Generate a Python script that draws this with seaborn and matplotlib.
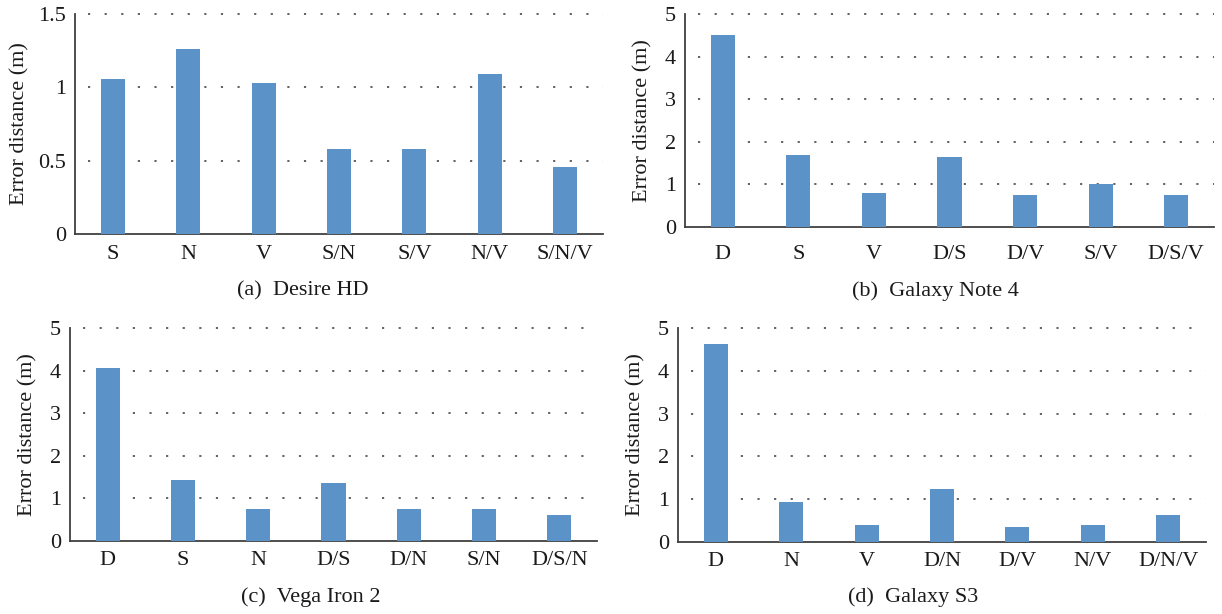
import matplotlib
matplotlib.use("Agg")
import matplotlib.pyplot as plt
import seaborn as sns
import pandas as pd

# ---- data ----
cats_a = ["S", "N", "V", "S/N", "S/V", "N/V", "S/N/V"]
vals_a = [1.06, 1.26, 1.03, 0.58, 0.58, 1.09, 0.455]

cats_b = ["D", "S", "V", "D/S", "D/V", "S/V", "D/S/V"]
vals_b = [4.51, 1.70, 0.80, 1.65, 0.76, 1.02, 0.76]

cats_c = ["D", "S", "N", "D/S", "D/N", "S/N", "D/S/N"]
vals_c = [4.07, 1.43, 0.75, 1.36, 0.75, 0.75, 0.61]

cats_d = ["D", "N", "V", "D/N", "D/V", "N/V", "D/N/V"]
vals_d = [4.63, 0.93, 0.39, 1.23, 0.34, 0.39, 0.625]

titles = ["(a)  Desire HD", "(b)  Galaxy Note 4", "(c)  Vega Iron 2", "(d)  Galaxy S3"]
ylabel = "Error distance (m)"

sns.set_style("white")
plt.rcParams["font.family"] = ["Liberation Serif", "DejaVu Serif"]

BAR = "#5b93c9"
SPINE = "#404040"
TXT = "#1a1a1a"
FS = 16
W, H = 1222, 614
fig = plt.figure(figsize=(W / 100, H / 100), dpi=100)

def px_axes(left, top, right, bottom):
    return fig.add_axes([left / W, 1 - bottom / H, (right - left) / W, (bottom - top) / H])

panels = [
    dict(cats=cats_a, vals=vals_a, box=(75, 14, 603, 234), ymax=1.5,
         yticks=[0, 0.5, 1, 1.5], ytl=["0", "0.5", "1", "1.5"], xpad=8, boundary=False,
         ylab=(20, 124), cap=(303, 291)),
    dict(cats=cats_b, vals=vals_b, box=(685, 14, 1214, 227), ymax=5,
         yticks=[0, 1, 2, 3, 4, 5], ytl=None, xpad=13, boundary=True,
         ylab=(643, 120.5), cap=(935, 291)),
    dict(cats=cats_c, vals=vals_c, box=(70, 328, 597, 541), ymax=5,
         yticks=[0, 1, 2, 3, 4, 5], ytl=None, xpad=7, boundary=False,
         ylab=(28, 434.5), cap=(311, 597)),
    dict(cats=cats_d, vals=vals_d, box=(678, 328, 1206, 542), ymax=5,
         yticks=[0, 1, 2, 3, 4, 5], ytl=None, xpad=7.5, boundary=False,
         ylab=(636, 435), cap=(913, 597)),
]

for p, title in zip(panels, titles):
    ax = px_axes(*p["box"])
    df = pd.DataFrame({"cat": p["cats"], "val": p["vals"]})
    sns.barplot(data=df, x="cat", y="val", color=BAR, width=0.32,
                saturation=1, linewidth=0, ax=ax, zorder=3)
    ax.set_xlim(-0.5, len(p["cats"]) - 0.5)
    ax.set_ylim(0, p["ymax"])
    ax.set_yticks(p["yticks"])
    if p["ytl"]:
        ax.set_yticklabels(p["ytl"])
    else:
        ax.set_yticklabels([str(t) for t in p["yticks"]])
    ax.set_xlabel("")
    ax.set_ylabel("")
    for s in ["top", "right"]:
        ax.spines[s].set_visible(False)
    for s in ["left", "bottom"]:
        ax.spines[s].set_color(SPINE)
        ax.spines[s].set_linewidth(1.3)
    ax.tick_params(axis="y", length=0, pad=6.5, labelsize=FS, colors=TXT)
    ax.tick_params(axis="x", length=0, pad=p["xpad"], labelsize=FS, colors=TXT)
    # dotted horizontal grid lines
    for t in p["yticks"][1:]:
        ax.axhline(t, color="#555555", linestyle=(2, (1.2, 8)), linewidth=1.3,
                   zorder=1, clip_on=False)
    if p["boundary"]:
        ax.set_xticks([i - 0.5 for i in range(len(p["cats"]) + 1)], minor=True)
        ax.tick_params(axis="x", which="minor", length=7, width=1.3,
                       color=SPINE, direction="out")
    fig.text(p["ylab"][0] / W, 1 - p["ylab"][1] / H, ylabel, rotation=90,
             ha="center", va="center", fontsize=FS, color=TXT)
    fig.text(p["cap"][0] / W, 1 - p["cap"][1] / H, title,
             ha="center", va="center", fontsize=FS, color=TXT)

fig.savefig("out.png", dpi=100)
